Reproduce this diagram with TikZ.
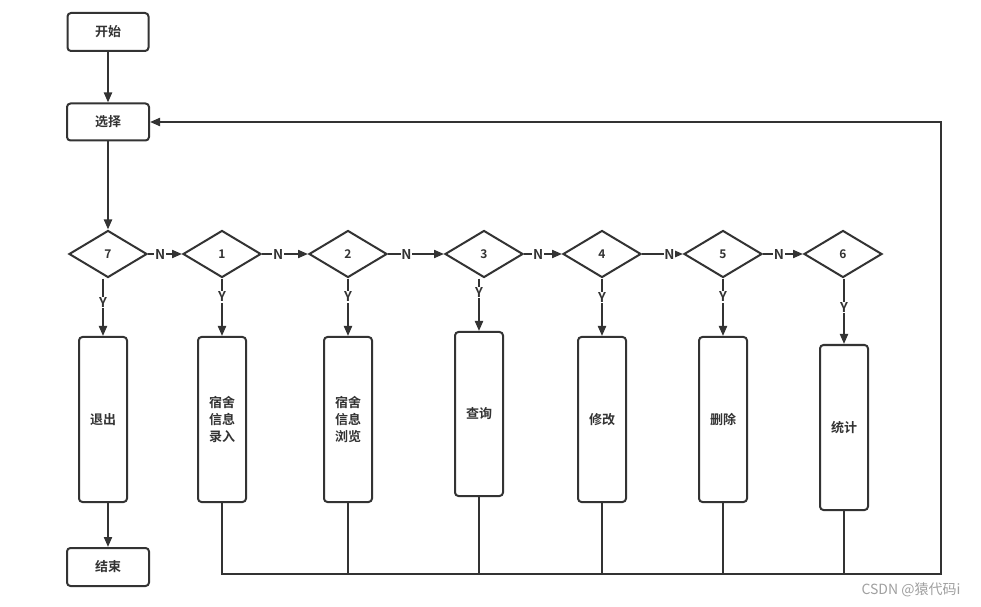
\documentclass[tikz,border=0pt]{standalone}
\usepackage{fontspec}
\setmainfont{Noto Sans CJK SC}
\newfontfamily\cjkb{Noto Sans CJK SC}[BoldFont={* Bold}]
\usetikzlibrary{shapes.geometric,arrows.meta}
\definecolor{lc}{HTML}{333333}
\definecolor{wm}{HTML}{A0A0A0}
\tikzset{
  base/.style={draw=lc, line width=2bp, fill=white, inner sep=0pt, text=lc},
  rbox/.style={base, rounded corners=3.5bp, font=\cjkb\bfseries\fontsize{13bp}{17bp}\selectfont, align=center},
  dia/.style={base, diamond, minimum width=78bp, minimum height=47bp, font=\cjkb\bfseries\fontsize{12bp}{14bp}\selectfont},
  conn/.style={draw=lc, line width=2bp},
  arr/.style={conn, -{Triangle[length=10bp,width=8bp]}},
  lbl/.style={fill=white, inner sep=0.8bp, text=lc, font=\cjkb\bfseries\fontsize{13.5bp}{14bp}\selectfont}
}
\begin{document}
\begin{tikzpicture}[x=1bp,y=-1bp]
\fill[white] (0,0) rectangle (981,607);
\useasboundingbox (0,0) rectangle (981,607);
% top boxes
\node[rbox, minimum width=81bp, minimum height=38bp] (start) at (108,32) {开始};
\node[rbox, minimum width=82bp, minimum height=37bp] (sel) at (108,122) {选择};
% diamonds
\node[dia] (d7) at (108,254) {7};
\node[dia] (d1) at (222,254) {1};
\node[dia] (d2) at (348,254) {2};
\node[dia] (d3) at (484,254) {3};
\node[dia] (d4) at (602,254) {4};
\node[dia] (d5) at (723,254) {5};
\node[dia] (d6) at (843,254) {6};
% tall boxes
\node[rbox, minimum width=48bp, minimum height=165bp] (b7) at (103,419.5) {退出};
\node[rbox, minimum width=48bp, minimum height=165bp] (b1) at (222,419.5) {宿舍\\信息\\录入};
\node[rbox, minimum width=48bp, minimum height=165bp] (b2) at (348,419.5) {宿舍\\信息\\浏览};
\node[rbox, minimum width=48bp, minimum height=164bp] (b3) at (479,414) {查询};
\node[rbox, minimum width=48bp, minimum height=165bp] (b4) at (602,419.5) {修改};
\node[rbox, minimum width=48bp, minimum height=165bp] (b5) at (723,419.5) {删除};
\node[rbox, minimum width=48bp, minimum height=165bp] (b6) at (844,427.5) {统计};
\node[rbox, minimum width=82bp, minimum height=38bp] (end) at (108,567) {结束};
% return corner
\coordinate (c) at (941,574);
% main flow
\draw[arr] (start) -- (sel);
\draw[arr] (sel) -- (d7);
\draw[arr] (d7.east) -- node[lbl, pos=0.36] {N} (d1.west);
\draw[arr] (d1.east) -- node[lbl, pos=0.35] {N} (d2.west);
\draw[arr] (d2.east) -- node[lbl, pos=0.33] {N} (d3.west);
\draw[arr] (d3.east) -- node[lbl, pos=0.37] {N} (d4.west);
\draw[arr] (d4.east) -- node[lbl, pos=0.67] {N} (d5.west);
\draw[arr] (d5.east) -- node[lbl, pos=0.40] {N} (d6.west);
% Y branches
\draw[arr] (b7.north |- d7.south) -- node[lbl, pos=0.42] {Y} (b7.north);
\draw[arr] (b1.north |- d1.south) -- node[lbl, pos=0.32] {Y} (b1.north);
\draw[arr] (b2.north |- d2.south) -- node[lbl, pos=0.32] {Y} (b2.north);
\draw[arr] (b3.north |- d3.south) -- node[lbl, pos=0.27] {Y} (b3.north);
\draw[arr] (b4.north |- d4.south) -- node[lbl, pos=0.33] {Y} (b4.north);
\draw[arr] (b5.north |- d5.south) -- node[lbl, pos=0.32] {Y} (b5.north);
\draw[arr] (b6.north |- d6.south) -- node[lbl, pos=0.44] {Y} (b6.north);
\draw[arr] (end.north |- b7.south) -- (end.north);
% return path
\draw[conn] (b2.south) -- (b2.south |- c);
\draw[conn] (b3.south) -- (b3.south |- c);
\draw[conn] (b4.south) -- (b4.south |- c);
\draw[conn] (b5.south) -- (b5.south |- c);
\draw[conn] (b6.south) -- (b6.south |- c);
\draw[arr] (b1.south) -- (b1.south |- c) -- (c) -- (c |- sel.east) -- (sel.east);
% watermark
\node[text=wm, font=\fontsize{14bp}{16bp}\selectfont, inner sep=0pt] (wmk) at (911,590) {CSDN @猿代码i};
\end{tikzpicture}
\end{document}
